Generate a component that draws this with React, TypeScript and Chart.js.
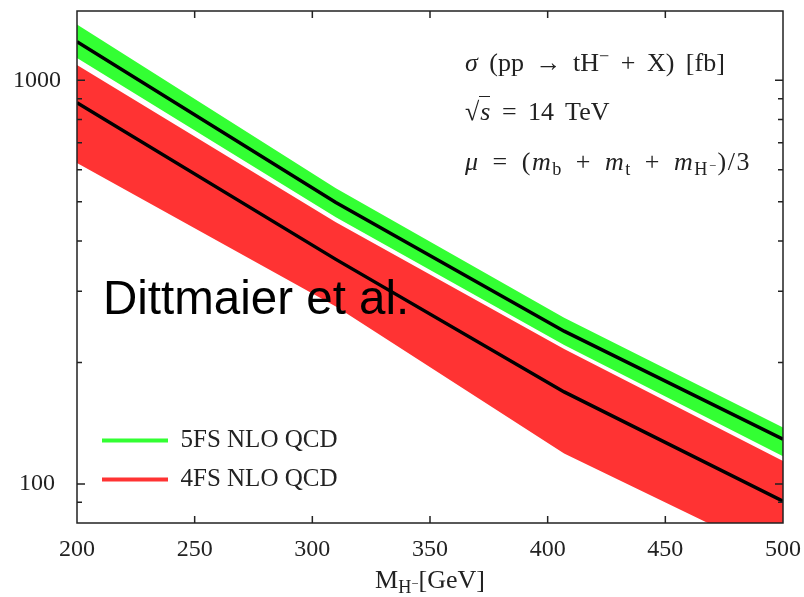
import React, { useEffect, useRef } from 'react';
import { Chart, registerables } from 'chart.js';

Chart.register(...registerables);

// Charged Higgs mass points [GeV]
const massPoints = [200, 310, 407, 500];
// 5FS NLO QCD band (upper / central / lower) [fb]
const fs5Upper = [1374, 540, 258, 138];
const fs5Central = [1247, 498, 239, 129];
const fs5Lower = [1136, 458, 221, 117];
// 4FS NLO QCD band (upper / central / lower) [fb]
const fs4Upper = [1091, 445, 216, 114];
const fs4Central = [880, 360, 169, 90.6];
const fs4Lower = [624, 275, 119, 65];

const xTicks = [200, 250, 300, 350, 400, 450, 500];
const xInnerTicks = [250, 300, 350, 400, 450];
const yMajorTicks = [100, 1000];
const yMinorTicks = [90, 200, 300, 400, 500, 600, 700, 800, 900];
const legendLabels = ['5FS NLO QCD', '4FS NLO QCD'];

const GREEN = '#33ff33';
const RED = '#ff3333';
const TEXT = '#222';
const SERIF = '"Liberation Serif", "Times New Roman", serif';

const pts = (ys: number[]) => massPoints.map((m, i) => ({ x: m, y: ys[i] }));

const framePlugin = {
  id: 'frameTicks',
  afterDatasetsDraw(chart: any) {
    const { ctx, chartArea } = chart;
    const { left, right, top, bottom } = chartArea;
    const xs = chart.scales.x;
    const ys = chart.scales.y;
    ctx.save();
    ctx.strokeStyle = TEXT;
    ctx.lineWidth = 1.5;
    ctx.strokeRect(left, top, right - left, bottom - top);
    ctx.beginPath();
    const drawY = (v: number, len: number) => {
      const p = ys.getPixelForValue(v);
      ctx.moveTo(left, p);
      ctx.lineTo(left + len, p);
      ctx.moveTo(right, p);
      ctx.lineTo(right - len, p);
    };
    yMajorTicks.forEach((v) => drawY(v, 8));
    yMinorTicks.forEach((v) => drawY(v, 5));
    xInnerTicks.forEach((v) => {
      const p = xs.getPixelForValue(v);
      ctx.moveTo(p, bottom);
      ctx.lineTo(p, bottom - 7);
      ctx.moveTo(p, top);
      ctx.lineTo(p, top + 7);
    });
    ctx.stroke();
    ctx.restore();
  },
};

const legendPlacer = {
  id: 'legendPlacer',
  afterLayout(chart: any) {
    const lg = chart.legend;
    if (!lg) return;
    const ca = chart.chartArea;
    lg.left = ca.left + 11;
    lg.right = lg.left + lg.width;
    lg.top = ca.bottom - 109;
    lg.bottom = ca.bottom;
  },
};

export default function App() {
  const ref = useRef<HTMLCanvasElement | null>(null);

  useEffect(() => {
    if (!ref.current) return;
    const band = (ys: number[], color: string, fill: any) => ({
      data: pts(ys),
      borderColor: 'rgba(0,0,0,0)',
      borderWidth: 0,
      backgroundColor: color,
      fill,
      pointRadius: 0,
      tension: 0,
    });
    const central = (ys: number[]) => ({
      data: pts(ys),
      borderColor: '#000',
      borderWidth: 3.5,
      fill: false,
      pointRadius: 0,
      tension: 0,
    });
    const chart = new Chart(ref.current, {
      type: 'line',
      data: {
        datasets: [
          { label: '5FS central', ...central(fs5Central) },
          { label: '4FS central', ...central(fs4Central) },
          { label: '5FS upper', ...band(fs5Upper, GREEN, '+1') },
          { label: '5FS lower', ...band(fs5Lower, 'rgba(0,0,0,0)', false) },
          { label: '4FS upper', ...band(fs4Upper, RED, '+1') },
          { label: '4FS lower', ...band(fs4Lower, 'rgba(0,0,0,0)', false) },
        ] as any,
      },
      options: {
        responsive: false,
        animation: false,
        events: [],
        devicePixelRatio: 1,
        layout: { padding: { top: 11, right: 21, left: 0, bottom: 0 } },
        scales: {
          x: {
            type: 'linear',
            min: 200,
            max: 500,
            grid: { display: false },
            border: { display: false },
            ticks: {
              font: { family: SERIF, size: 24 },
              color: TEXT,
              padding: 4,
              maxRotation: 0,
              autoSkip: false,
            },
            afterBuildTicks: (s: any) => {
              s.ticks = xTicks.map((v) => ({ value: v }));
            },
            afterFit: (s: any) => {
              s.height = 74;
              s.paddingLeft = 0;
              s.paddingRight = 0;
            },
          },
          y: {
            type: 'logarithmic',
            min: 80,
            max: 1485,
            grid: { display: false },
            border: { display: false },
            ticks: {
              font: { family: SERIF, size: 24 },
              color: TEXT,
              padding: 8,
              crossAlign: 'center',
              autoSkip: false,
              callback: (v: any) => (yMajorTicks.includes(Number(v)) ? String(v) : ''),
            },
            afterBuildTicks: (s: any) => {
              s.ticks = [...yMinorTicks, ...yMajorTicks]
                .sort((a, b) => a - b)
                .map((v) => ({ value: v }));
            },
            afterFit: (s: any) => {
              s.width = 77;
              s.paddingTop = 0;
              s.paddingBottom = 0;
            },
          },
        } as any,
        plugins: {
          tooltip: { enabled: false },
          title: { display: false },
          legend: {
            display: true,
            position: 'chartArea' as any,
            align: 'start',
            labels: {
              font: { family: SERIF, size: 25 },
              color: TEXT,
              usePointStyle: true,
              pointStyle: 'line',
              pointStyleWidth: 66,
              padding: 14,
              generateLabels: () =>
                legendLabels.map((t, i) => ({
                  text: t,
                  fillStyle: i === 0 ? GREEN : RED,
                  strokeStyle: i === 0 ? GREEN : RED,
                  lineWidth: 4,
                  pointStyle: 'line',
                  hidden: false,
                  datasetIndex: i,
                  fontColor: TEXT,
                })) as any,
            },
          },
        },
      },
      plugins: [framePlugin, legendPlacer],
    });
    return () => chart.destroy();
  }, []);

  const sub: React.CSSProperties = { fontSize: '0.7em', position: 'relative', top: '0.3em', lineHeight: 0, fontStyle: 'normal' };
  const sup: React.CSSProperties = { fontSize: '0.7em', position: 'relative', top: '-0.5em', lineHeight: 0, fontStyle: 'normal' };
  const ann: React.CSSProperties = {
    position: 'absolute',
    left: 465,
    fontFamily: SERIF,
    fontSize: 26,
    lineHeight: '30px',
    color: TEXT,
    whiteSpace: 'nowrap',
    wordSpacing: 5,
  };

  return (
    <div style={{ position: 'absolute', left: 0, top: 0, width: 804, height: 597, background: '#fff', overflow: 'hidden' }}>
      <canvas ref={ref} width={804} height={597} style={{ position: 'absolute', left: 0, top: 0 }} />
      <div style={{ ...ann, top: 48 }}>
        <i>σ</i> (pp → tH<span style={sup}>−</span> + X) [fb]
      </div>
      <div style={{ ...ann, top: 97 }}>
        √<span style={{ borderTop: '1.5px solid #222', fontStyle: 'italic', paddingLeft: 1 }}>s</span> = 14 TeV
      </div>
      <div style={{ ...ann, top: 147, letterSpacing: 1.5 }}>
        <i>μ</i> = (<i>m</i>
        <span style={sub}>b</span> + <i>m</i>
        <span style={sub}>t</span> + <i>m</i>
        <span style={sub}>
          H<span style={{ ...sup, top: '-0.4em' }}>−</span>
        </span>
        )/3
      </div>
      <div
        style={{
          position: 'absolute',
          left: 103,
          top: 273.5,
          fontFamily: '"Liberation Sans", Arial, sans-serif',
          fontSize: 47.5,
          lineHeight: '47px',
          color: '#000',
          whiteSpace: 'nowrap',
        }}
      >
        Dittmaier et al.
      </div>
      <div
        style={{
          position: 'absolute',
          left: 430,
          top: 566,
          transform: 'translateX(-50%)',
          fontFamily: SERIF,
          fontSize: 26,
          lineHeight: '28px',
          color: TEXT,
          whiteSpace: 'nowrap',
        }}
      >
        M<span style={sub}>H<span style={{ ...sup, top: '-0.4em' }}>−</span></span>[GeV]
      </div>
    </div>
  );
}
